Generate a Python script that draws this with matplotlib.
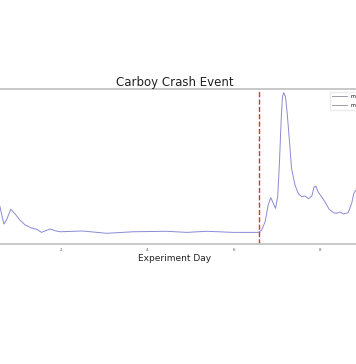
"""
Carboy Crash Event: mass-spec trace around the carboy crash (cropped view).
Saves out.png at 356x364.
"""

import matplotlib
matplotlib.use("Agg")
import matplotlib.pyplot as plt
from matplotlib.lines import Line2D

LINE_COLOR = "#8a8ad6"
LEGEND_LINE = "#8c8c9c"
SPINE_GRAY = "#c4c4c4"
CRASH_RED = "#e03030"

# experiment day / relative signal
days = [0.00, 0.20, 0.40, 0.50, 0.59, 0.64, 0.68, 0.74, 0.84, 0.94, 1.05, 1.17,
        1.32, 1.44, 1.55, 1.65, 1.75, 1.86, 1.98, 2.49, 3.06, 3.67, 4.44,
        4.91, 5.37, 5.98, 6.56, 6.64, 6.72, 6.79, 6.85, 6.91, 6.96, 7.01,
        7.05, 7.09, 7.12, 7.15, 7.19, 7.23, 7.28, 7.33, 7.41, 7.49, 7.57,
        7.64, 7.72, 7.80, 7.85, 7.89, 7.94, 8.01, 8.10, 8.20, 8.30, 8.37,
        8.45, 8.53, 8.64, 8.72, 8.77, 8.82, 9.00, 9.27]
signal = [0.36, 0.40, 0.33, 0.29, 0.241, 0.176, 0.129, 0.155, 0.224, 0.194,
          0.155, 0.123, 0.103, 0.095, 0.075, 0.086, 0.097, 0.086, 0.079,
          0.084, 0.069, 0.079, 0.082, 0.075, 0.082, 0.075, 0.075, 0.090,
          0.144, 0.252, 0.299, 0.262, 0.230, 0.305, 0.520, 0.800, 0.950,
          0.976, 0.950, 0.843, 0.671, 0.488, 0.381, 0.323, 0.305, 0.310,
          0.292, 0.310, 0.366, 0.374, 0.338, 0.310, 0.273, 0.224, 0.202,
          0.198, 0.206, 0.194, 0.202, 0.262, 0.327, 0.348, 0.42, 0.45]
crash_day = 6.58
series_labels = ["m/z 32", "m/z 44"]

fig = plt.figure(figsize=(3.56, 3.64), dpi=100, facecolor="white")
W, H = 356.0, 364.0
x_left, x_right = -34.2, 384.1      # axes edges in pixels (cropped beyond image)
y_top, y_bot = 89.0, 244.0
ax = fig.add_axes([x_left / W, 1 - y_bot / H, (x_right - x_left) / W, (y_bot - y_top) / H])
ax.set_xlim(-0.2, 9.47)
ax.set_ylim(0, 1)

ax.plot(days, signal, color=LINE_COLOR, lw=0.7)
ax.axvline(crash_day, color=CRASH_RED, ls="--", lw=1.0)

for side in ["left", "right"]:
    ax.spines[side].set_visible(False)
for side in ["top", "bottom"]:
    ax.spines[side].set_color(SPINE_GRAY)
    ax.spines[side].set_linewidth(1.3)

ax.set_xticks([2, 4, 6, 8])
ax.set_yticks([])
ax.tick_params(axis="x", length=0, labelsize=3, labelcolor="#555555", pad=3)

ax.set_title("Carboy Crash Event", fontsize=8.5, color="#222222", pad=2)
ax.set_xlabel("Experiment Day", fontsize=6.5, color="#222222", labelpad=1)

handles = [Line2D([], [], color=LEGEND_LINE, lw=0.6) for _ in series_labels]
fig.legend(handles, series_labels, loc="upper left",
           bbox_to_anchor=(327.0 / W, 1 - 89.0 / H), fontsize=3.6,
           frameon=True, edgecolor="#e6e6e6", handlelength=3.0,
           handletextpad=0.8, borderpad=0.5, labelspacing=0.7)

fig.savefig("out.png", dpi=100, facecolor="white")
